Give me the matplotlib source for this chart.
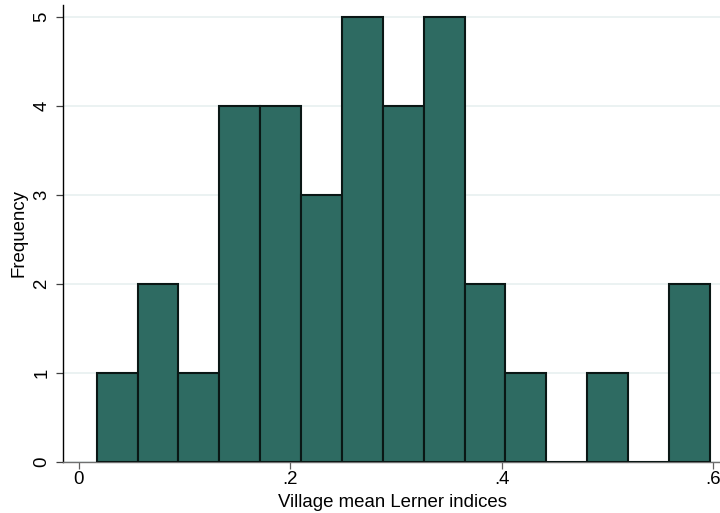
import matplotlib
matplotlib.use("Agg")
import matplotlib.pyplot as plt
import numpy as np

# Data
bin_start = 0.0170
bin_width = 0.03866
counts = [1, 2, 1, 4, 4, 3, 5, 4, 5, 2, 1, 0, 1, 0, 2]
x_ticks = [0, 0.2, 0.4, 0.6]
x_tick_labels = ["0", ".2", ".4", ".6"]
y_ticks = [0, 1, 2, 3, 4, 5]
y_tick_labels = ["0", "1", "2", "3", "4", "5"]
x_label = "Village mean Lerner indices"
y_label = "Frequency"

plt.rcParams['font.family'] = ['Liberation Sans', 'DejaVu Sans']
FS = 13.4

fig = plt.figure(figsize=(7.2, 5.13), dpi=100)
W, H = 720, 513
ax_left, ax_right, ax_bottom, ax_top = 63, 720, 461.7, 5
ax = fig.add_axes([ax_left / W, (H - ax_bottom) / H, (ax_right - ax_left) / W, (ax_bottom - ax_top) / H])

edges = bin_start + bin_width * np.arange(len(counts))
ax.bar(edges, counts, width=bin_width, align='edge', color='#2e6b62',
       edgecolor='#0a1715', linewidth=1.5, zorder=3)

ax.set_xlim(-0.0149, 0.6065)
ax.set_ylim(0, 5.13)

ax.set_yticks(y_ticks)
ax.set_yticklabels(y_tick_labels, rotation=90, va='center', fontsize=FS)
ax.set_xticks(x_ticks)
ax.set_xticklabels(x_tick_labels, fontsize=FS)

ax.grid(axis='y', color='#e6efef', linewidth=1.1, zorder=0)
ax.set_axisbelow(True)

for s in ['top', 'right']:
    ax.spines[s].set_visible(False)
ax.spines['left'].set_color('black')
ax.spines['left'].set_linewidth(1.0)
ax.spines['bottom'].set_color('#707070')
ax.spines['bottom'].set_linewidth(1.0)

ax.tick_params(axis='y', length=5, width=0.9, color='#404040', pad=4)
ax.tick_params(axis='x', length=5, width=0.9, color='#606060', pad=2)

fig.text(393 / W, (H - 507) / H, x_label, ha='center', va='baseline', fontsize=FS)
fig.text(28 / W, 0.5 * ((H - ax_bottom) + (H - ax_top)) / H, y_label, rotation=90,
         ha='right', va='center', fontsize=FS)

fig.savefig("out.png", dpi=100)
